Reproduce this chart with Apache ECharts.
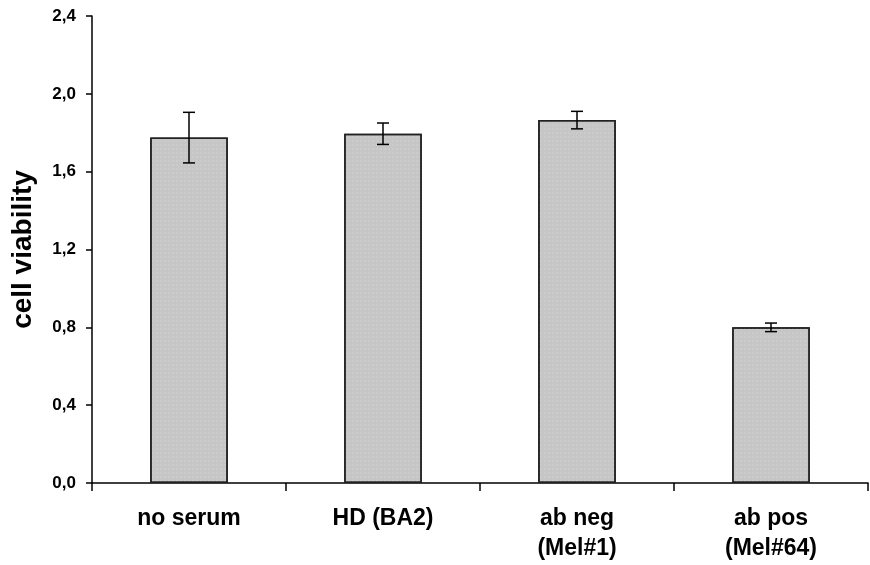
<!DOCTYPE html>
<html><head><meta charset="utf-8">
<script src="https://cdn.jsdelivr.net/npm/echarts@6/dist/echarts.min.js"></script>
<style>html,body{margin:0;padding:0;background:#fff}#c{width:870px;height:565px}</style>
</head><body><div id="c"></div>
<script>
const categories = ['no serum', 'HD (BA2)', 'ab neg\n(Mel#1)', 'ab pos\n(Mel#64)'];
const values = [1.775, 1.795, 1.865, 0.80];
const errors = [0.13, 0.055, 0.045, 0.022];
const yTicks = [0, 0.4, 0.8, 1.2, 1.6, 2.0, 2.4];

const chart = echarts.init(document.getElementById('c'));
const font = 'Liberation Sans, Arial, sans-serif';
chart.setOption({
  animation: false,
  grid: {left: 92, right: 2, top: 16, bottom: 82},
  xAxis: {
    type: 'category', data: categories,
    axisLine: {lineStyle: {color: '#000', width: 1.5}},
    axisTick: {show: true, length: 8, lineStyle: {color: '#000', width: 1.5}},
    axisLabel: {color: '#000', fontFamily: font, fontWeight: 'bold', fontSize: 23, margin: 21, lineHeight: 30}
  },
  yAxis: {
    type: 'value', min: 0, max: 2.4, interval: 0.4,
    name: 'cell viability', nameLocation: 'middle', nameGap: 55, nameRotate: 90,
    nameTextStyle: {color: '#000', fontFamily: font, fontWeight: 'bold', fontSize: 28},
    splitLine: {show: false},
    axisLine: {show: true, lineStyle: {color: '#000', width: 1.5}},
    axisTick: {show: true, length: 6, lineStyle: {color: '#000', width: 1.5}},
    axisLabel: {color: '#000', fontFamily: font, fontWeight: 'bold', fontSize: 17, margin: 16,
      formatter: v => v.toFixed(1).replace('.', ',')}
  },
  series: [
    {
      type: 'bar', data: values, barWidth: '40%',
      itemStyle: {color: '#c6c6c6', borderColor: '#222', borderWidth: 1.5,
        decal: {symbol: 'rect', symbolSize: 0.5, dashArrayX: [2, 2], dashArrayY: [2, 2], color: 'rgba(230,230,230,0.6)'}}
    },
    {
      type: 'custom',
      data: values.map((v, i) => [i, v - errors[i], v + errors[i]]),
      renderItem: function (params, api) {
        const lo = api.coord([api.value(0), api.value(1)]);
        const hi = api.coord([api.value(0), api.value(2)]);
        const hw = 6;
        const st = {stroke: '#000', lineWidth: 1.5};
        return {type: 'group', children: [
          {type: 'line', shape: {x1: lo[0], y1: lo[1], x2: hi[0], y2: hi[1]}, style: st},
          {type: 'line', shape: {x1: lo[0]-hw, y1: lo[1], x2: lo[0]+hw, y2: lo[1]}, style: st},
          {type: 'line', shape: {x1: hi[0]-hw, y1: hi[1], x2: hi[0]+hw, y2: hi[1]}, style: st}
        ]};
      },
      z: 10
    }
  ]
});
</script></body></html>
